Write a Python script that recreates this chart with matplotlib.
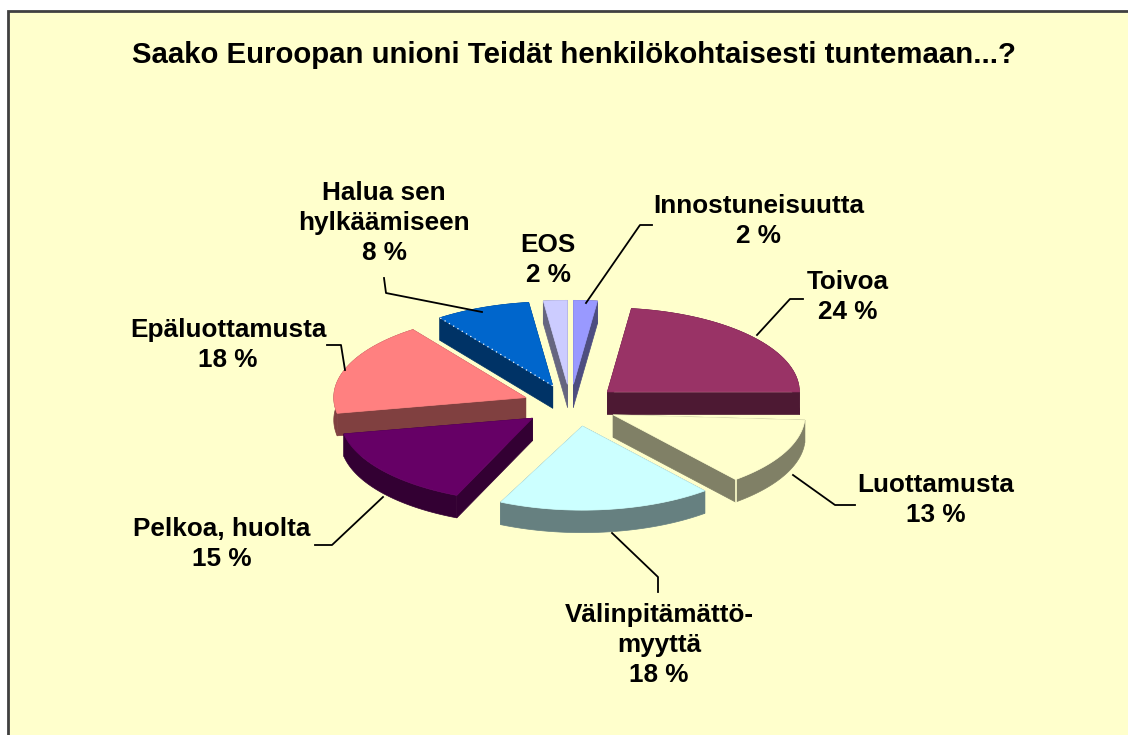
import numpy as np
import matplotlib
matplotlib.use('Agg')
import matplotlib.pyplot as plt
from matplotlib.patches import Polygon, Rectangle

plt.rcParams['font.family'] = ['Liberation Sans', 'DejaVu Sans']

title = 'Saako Euroopan unioni Teidät henkilökohtaisesti tuntemaan...?'
names = ['Innostuneisuutta', 'Toivoa', 'Luottamusta', 'Välinpitämättö-\nmyyttä',
         'Pelkoa, huolta', 'Epäluottamusta', 'Halua sen\nhylkäämiseen', 'EOS']
values = [2, 24, 13, 18, 15, 18, 8, 2]
top_colors = ['#9999FF', '#993366', '#FFFFCC', '#CCFFFF', '#660066', '#FF8080', '#0066CC', '#CCCCFF']
side_colors = ['#4D4D80', '#4D1933', '#808066', '#668080', '#330033', '#804040', '#003366', '#666680']

# pie geometry, pixels
cx, cy = 570.4, 405.3
rx, ry = 192, 84
explode = 0.25
depth = 22.5
draw_order = [7, 0, 6, 1, 5, 2, 4, 3]
# small per slice corrections for the perspective of the original: dx, dy, start deg, end deg
nudges = [(0, 0, 0, 0), (0, 0, 0, -3.6), (0, 0, 0, 0), (6, 0, 0, 0),
          (0, 0, -2, 0), (0, 0, 0, 0), (0, 0, 0, 0), (0, 0, 0, 0)]

label_pos = [(759, 221), (848, 297), (936, 500), (659, 645), (222, 544), (228, 345), (384, 223), (548, 260)]
leaders = [
    [(586, 303), (640, 225), (652, 225)],
    [(757, 335), (790, 299), (803, 299)],
    [(793, 475), (835, 505), (855, 505)],
    [(612, 533), (658, 577), (658, 592)],
    [(383, 497), (332, 545), (315, 545)],
    [(345, 370), (341, 345), (327, 345)],
    [(482, 312), (386, 293), (384, 278)],
]

fig = plt.figure(figsize=(11.28, 7.35), dpi=100, facecolor='white')
ax = fig.add_axes([0, 0, 1, 1])
ax.set_xlim(0, 1128)
ax.set_ylim(735, 0)
ax.axis('off')

ax.add_patch(Rectangle((8, 11), 1140, 740, facecolor='#FFFFCC', edgecolor='#404040', lw=2))

total = sum(values)
edges = np.concatenate([[0], np.cumsum(values)]) / total * 2 * np.pi


def slice_outline(i):
    mid = (edges[i] + edges[i + 1]) / 2
    dx, dy, d0, d1 = nudges[i]
    ax0 = cx + explode * rx * np.sin(mid) + dx
    ay0 = cy - explode * ry * np.cos(mid) + dy
    t = np.linspace(edges[i] + np.radians(d0), edges[i + 1] + np.radians(d1), 40)
    xs = np.concatenate([[ax0], ax0 + rx * np.sin(t)])
    ys = np.concatenate([[ay0], ay0 - ry * np.cos(t)])
    return xs, ys


def add_wall(xs, ys, color):
    pts = list(zip(xs, ys)) + list(zip(xs[::-1], ys[::-1] + depth))
    ax.add_patch(Polygon(pts, facecolor=color, edgecolor=color, lw=0.5))


for i in draw_order:
    xs, ys = slice_outline(i)
    # walls first: the two cut faces and the outer arc, then the top face over them
    add_wall(xs[:2], ys[:2], side_colors[i])
    add_wall(xs[[-1, 0]], ys[[-1, 0]], side_colors[i])
    add_wall(xs[1:], ys[1:], side_colors[i])
    ax.add_patch(Polygon(np.column_stack([xs, ys]), facecolor=top_colors[i], edgecolor=top_colors[i], lw=0.5))

# light seams seen on two of the slices
xs, ys = slice_outline(2)
ax.plot([xs[-1], xs[-1]], [ys[-1], ys[-1] + depth], color='#FFFFCC', lw=1.2)
xs, ys = slice_outline(6)
ax.plot([xs[0], xs[1]], [ys[0], ys[1]], color='white', lw=0.9, ls=(0, (1, 3)))

for pts in leaders:
    ax.plot([p[0] for p in pts], [p[1] for p in pts], color='black', lw=1.3)

ax.text(574, 55, title, ha='center', va='center', fontsize=21.2, fontweight='bold', color='black')
for name, val, (x, y) in zip(names, values, label_pos):
    ax.text(x, y, f'{name}\n{val} %', ha='center', va='center', fontsize=18.8,
            fontweight='bold', color='black', linespacing=1.33)

fig.savefig('out.png', dpi=100)
